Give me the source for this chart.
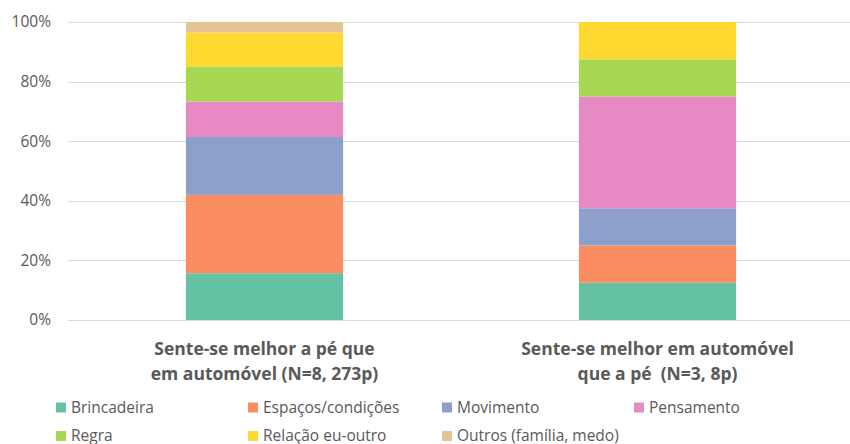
<!DOCTYPE html>
<html>
<head>
<meta charset="utf-8">
<script src="https://cdn.jsdelivr.net/npm/d3@7"></script>
<style>
  body { margin: 0; background: #fff; }
  svg { display: block; font-family: "Open Sans", sans-serif; }
</style>
</head>
<body>
<div id="chart"></div>
<script>
// categories (x) and labels split over two lines
const groups = ["g1", "g2"];
const groupLabels = [
  ["Sente-se melhor a pé que", "em automóvel (N=8, 273p)"],
  ["Sente-se melhor em automóvel", "que a pé  (N=3, 8p)"],
];

// series, bottom to top
const series = [
  "Brincadeira",
  "Espaços/condições",
  "Movimento",
  "Pensamento",
  "Regra",
  "Relação eu-outro",
  "Outros (família, medo)",
];

// percentage shares
const values_g1 = [15.7, 26.3, 19.4, 11.9, 11.8, 11.4, 3.5];
const values_g2 = [12.5, 12.5, 12.5, 37.5, 12.5, 12.5, 0];

const yTicks = [0, 20, 40, 60, 80, 100];

const colors = d3.schemeSet2; // same palette as the original

const width = 850,
  height = 444;
const margin = { top: 22, right: -4, bottom: 124, left: 68 };
const plotH = height - margin.top - margin.bottom;

const svg = d3
  .select("#chart")
  .append("svg")
  .attr("width", width)
  .attr("height", height);

const x = d3
  .scaleBand()
  .domain(groups)
  .range([margin.left, width - margin.right])
  .paddingInner(0.6)
  .paddingOuter(0.3);

const y = d3
  .scaleLinear()
  .domain([0, 100])
  .range([margin.top + plotH, margin.top]);

// gridlines
svg
  .append("g")
  .selectAll("line")
  .data(yTicks)
  .join("line")
  .attr("x1", margin.left)
  .attr("x2", width)
  .attr("y1", (d) => Math.round(y(d)) + 0.5)
  .attr("y2", (d) => Math.round(y(d)) + 0.5)
  .attr("stroke", "#d9d9d9")
  .attr("stroke-width", 1);

// y tick labels
svg
  .append("g")
  .selectAll("text")
  .data(yTicks)
  .join("text")
  .attr("x", 51)
  .attr("y", (d) => y(d))
  .attr("dy", "0.35em")
  .attr("text-anchor", "end")
  .attr("font-size", 15.5)
  .attr("fill", "#595959")
  .text((d) => d + "%");

// stack the data
const table = groups.map((g, i) => {
  const vals = i === 0 ? values_g1 : values_g2;
  const row = { group: g };
  series.forEach((s, j) => (row[s] = vals[j]));
  return row;
});
const stacked = d3.stack().keys(series)(table);

svg
  .append("g")
  .selectAll("g")
  .data(stacked)
  .join("g")
  .attr("fill", (d, i) => colors[i])
  .selectAll("rect")
  .data((d) => d)
  .join("rect")
  .attr("x", (d) => x(d.data.group))
  .attr("width", x.bandwidth())
  .attr("y", (d) => y(d[1]))
  .attr("height", (d) => y(d[0]) - y(d[1]));

// category labels
const catLabels = svg
  .append("g")
  .selectAll("text")
  .data(groups)
  .join("text")
  .attr("text-anchor", "middle")
  .attr("font-size", 17.5)
  .attr("font-weight", "bold")
  .attr("fill", "#595959");
catLabels
  .selectAll("tspan")
  .data((d, i) => groupLabels[i].map((t) => ({ t, g: d })))
  .join("tspan")
  .attr("x", (d) => x(d.g) + x.bandwidth() / 2)
  .attr("y", (d, i) => 355 + i * 25)
  .attr("xml:space", "preserve")
  .text((d) => d.t);

// legend
const legendCols = [56, 248, 442, 634];
const legendRows = [407.5, 436];
const legend = svg
  .append("g")
  .selectAll("g")
  .data(series)
  .join("g")
  .attr(
    "transform",
    (d, i) => `translate(${legendCols[i % 4]}, ${legendRows[Math.floor(i / 4)]})`
  );
legend
  .append("rect")
  .attr("x", 0)
  .attr("y", -5)
  .attr("width", 10)
  .attr("height", 10)
  .attr("fill", (d, i) => colors[i]);
legend
  .append("text")
  .attr("x", 15)
  .attr("dy", "0.35em")
  .attr("font-size", 15.5)
  .attr("fill", "#595959")
  .text((d) => d);
</script>
</body>
</html>
